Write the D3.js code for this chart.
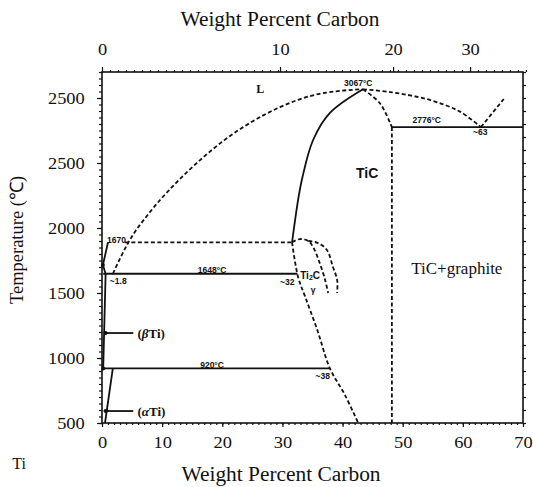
<!DOCTYPE html>
<html>
<head>
<meta charset="utf-8">
<script src="https://cdn.jsdelivr.net/npm/d3@7"></script>
<style>
  body { margin: 0; background: #fff; }
  svg text { fill: #111; }
</style>
</head>
<body>
<svg id="chart" width="533" height="487"></svg>
<script>
// Ti–C phase diagram: temperature vs. carbon content

// axis ticks
const bottomTicks = [0, 10, 20, 30, 40, 50, 60, 70];
const tempTicks = [500, 1000, 1500, 2000, 2500, 3000];
const tempTickLabels = ["500", "1000", "1500", "2000", "2500", "2500"];
const topTickLabels = ["0", "10", "20", "30"];
const topTickAt = [0, 29.6, 48.4, 61.2];   // where each top tick falls on the lower scale

// phase boundaries as [carbon, °C]
const liquidusTi = [[1.8, 1648], [4.4, 1890], [8.0, 2124], [12.1, 2337], [16.3, 2522], [20.4, 2678],
                    [24.6, 2808], [29.6, 2930], [34.6, 3015], [39.6, 3055], [43.4, 3067]];
const liquidusTiC = [[43.4, 3067], [47.9, 3046], [54.5, 2985], [59.5, 2895], [63.0, 2776]];
const liquidusGraphite = [[63.0, 2776], [66.8, 2992]];
const ticSolidusRight = [[43.4, 3067], [46.2, 2960], [48.2, 2776]];
const ticGraphiteEdge = [[48.2, 2776], [48.2, 500]];
const ticLeftSolid = [[43.4, 3067], [37.9, 2885], [35.1, 2677], [33.3, 2385], [32.6, 2215], [31.6, 1890]];
const ticLeftLower = [[31.6, 1890], [32.6, 1623], [33.8, 1469], [35.8, 1215], [37.9, 920], [40.4, 715], [42.6, 500]];
const ti2cInner = [[31.6, 1890], [32.9, 1915], [34.3, 1900], [35.1, 1854], [36.2, 1731], [37.1, 1600], [37.6, 1500]];
const ti2cOuter = [[34.3, 1900], [35.9, 1885], [37.4, 1831], [38.4, 1700], [39.1, 1600], [39.1, 1500]];
const upperPlateau = [[3.8, 1890], [31.6, 1890]];
const peritectic = [[0.2, 1648], [32.5, 1648]];
const eutectoid = [[0.2, 920], [37.9, 920]];
const eutectic = [[48.2, 2776], [70, 2776]];
const betaTiEdge = [[1.0, 1890], [0.15, 1715], [0.6, 1648], [0.2, 915]];
const alphaTiEdge = [[1.8, 920], [0.5, 500]];
const betaPointer = [[0.3, 1192], [5.2, 1192]];
const alphaPointer = [[0.3, 592], [5.2, 592]];
const markerPoints = [[0.15, 1715], [0.2, 920], [0.6, 1192], [0.6, 592]];

const curvedSolid = [ticLeftSolid];
const straightSolid = [peritectic, eutectoid, eutectic, betaTiEdge, alphaTiEdge, betaPointer, alphaPointer];
const curvedDashed = [liquidusTiC, ticSolidusRight, ticLeftLower, ti2cInner, ti2cOuter];
const straightDashed = [liquidusGraphite, ticGraphiteEdge, upperPlateau];

// small annotations inside the plot, placed in data units
const notes = [
  { t: "3067°C", at: [42.6, 3115], k: "small" },
  { t: "2776°C", at: [54.0, 2831], k: "small" },
  { t: "~63",    at: [62.9, 2736], k: "small" },
  { t: "1670",   at: [2.4, 1905],  k: "small" },
  { t: "~1.8",   at: [2.7, 1590],  k: "small" },
  { t: "1648°C", at: [18.3, 1677], k: "small" },
  { t: "~32",    at: [30.8, 1585], k: "small" },
  { t: "920°C",  at: [18.3, 946],  k: "small" },
  { t: "~38",    at: [36.7, 860],  k: "small" },
  { t: "γ",      at: [35.1, 1520], k: "small" },
  { t: "L",      at: [26.3, 3069], k: "phase" },
  { t: "TiC",    at: [44.1, 2423], k: "phaseBig" },
  { t: "TiC+graphite", at: [59.0, 1692], k: "region" }
];

const svg = d3.select("#chart");
const x = d3.scaleLinear().domain([0, 70]).range([102, 523]);
const y = d3.scaleLinear().domain([500, 3200]).range([423, 72]);
const serif = "'Liberation Serif', 'Times New Roman', serif";
const narrow = "'Liberation Sans Narrow', 'Liberation Sans', Arial, sans-serif";

function styleAxis(g, sx) {
  g.select(".domain").remove();
  g.selectAll(".tick line").attr("stroke", "#111").attr("stroke-width", 1.2);
  g.selectAll(".tick text")
    .attr("font-family", serif).attr("font-size", 16).attr("fill", "#111")
    .attr("transform", `scale(${sx},1)`);
}

// minor ticks
svg.append("g").attr("transform", `translate(0,${y(500)})`)
  .call(d3.axisBottom(x).tickValues(d3.range(0, 71, 1)).tickSize(2).tickFormat(""))
  .call(g => styleAxis(g, 1));
svg.append("g").attr("transform", `translate(0,${y(3200)})`)
  .call(d3.axisTop(x).tickValues(d3.range(0, 71, 1.33)).tickSize(2).tickFormat(""))
  .call(g => styleAxis(g, 1));
svg.append("g").attr("transform", `translate(${x(0)},0)`)
  .call(d3.axisLeft(y).tickValues(d3.range(500, 3201, 50)).tickSize(3).tickFormat(""))
  .call(g => styleAxis(g, 1));
svg.append("g").attr("transform", `translate(${x(70)},0)`)
  .call(d3.axisRight(y).tickValues(d3.range(500, 3201, 100)).tickSize(3).tickFormat(""))
  .call(g => styleAxis(g, 1));

// major ticks with labels
svg.append("g").attr("transform", `translate(0,${y(500)})`)
  .call(d3.axisBottom(x).tickValues(bottomTicks).tickSize(4).tickPadding(10))
  .call(g => styleAxis(g, 1.15));
svg.append("g").attr("transform", `translate(0,${y(3200)})`)
  .call(d3.axisTop(x).tickValues(topTickAt).tickSize(5).tickPadding(12)
    .tickFormat((d, i) => topTickLabels[i]))
  .call(g => styleAxis(g, 1.15));
svg.append("g").attr("transform", `translate(${x(0)},0)`)
  .call(d3.axisLeft(y).tickValues(tempTicks).tickSize(5).tickPadding(10)
    .tickFormat((d, i) => tempTickLabels[i]))
  .call(g => styleAxis(g, 1.15));

// frame
svg.append("rect")
  .attr("x", x(0)).attr("y", y(3200))
  .attr("width", x(70) - x(0)).attr("height", y(500) - y(3200))
  .attr("fill", "none").attr("stroke", "#111").attr("stroke-width", 1.6);

// boundaries
const smooth = d3.line().x(d => x(d[0])).y(d => y(d[1])).curve(d3.curveCatmullRom.alpha(0.5));
const monotone = d3.line().x(d => x(d[0])).y(d => y(d[1])).curve(d3.curveMonotoneX);
const straight = d3.line().x(d => x(d[0])).y(d => y(d[1]));

const dashed = svg.append("g")
  .attr("fill", "none").attr("stroke", "#111").attr("stroke-width", 1.8)
  .attr("stroke-dasharray", "4,2.5");
dashed.append("path").attr("d", monotone(liquidusTi));
dashed.selectAll("path.c").data(curvedDashed).join("path").attr("class", "c").attr("d", smooth);
dashed.selectAll("path.s").data(straightDashed).join("path").attr("class", "s").attr("d", straight);

const solid = svg.append("g")
  .attr("fill", "none").attr("stroke", "#111").attr("stroke-width", 1.8);
solid.selectAll("path.c").data(curvedSolid).join("path").attr("class", "c").attr("d", smooth);
solid.selectAll("path.s").data(straightSolid).join("path").attr("class", "s").attr("d", straight);

svg.append("g").selectAll("circle").data(markerPoints).join("circle")
  .attr("cx", d => x(d[0])).attr("cy", d => y(d[1])).attr("r", 2).attr("fill", "#111");

// annotations
const noteStyle = {
  small:    { f: narrow, s: 8.5, w: "bold" },
  phase:    { f: serif,  s: 12,  w: "bold" },
  phaseBig: { f: narrow, s: 14,  w: "bold" },
  region:   { f: serif,  s: 17,  w: "normal" }
};
svg.append("g").selectAll("text").data(notes).join("text")
  .attr("x", d => x(d.at[0])).attr("y", d => y(d.at[1]))
  .attr("text-anchor", "middle").attr("dominant-baseline", "central")
  .attr("font-family", d => noteStyle[d.k].f)
  .attr("font-size", d => noteStyle[d.k].s)
  .attr("font-weight", d => noteStyle[d.k].w)
  .text(d => d.t);

// Ti2C label with subscript
const ti2c = svg.append("text")
  .attr("x", x(34.6)).attr("y", y(1638))
  .attr("text-anchor", "middle").attr("dominant-baseline", "central")
  .attr("font-family", narrow).attr("font-size", 10).attr("font-weight", "bold");
ti2c.append("tspan").text("Ti");
ti2c.append("tspan").attr("font-size", 7).attr("dy", 2).text("2");
ti2c.append("tspan").attr("dy", -2).text("C");

// phase pointers
[["(", "β", "Ti)", 1192], ["(", "α", "Ti)", 592]].forEach(p => {
  const t = svg.append("text")
    .attr("x", x(5.9)).attr("y", y(p[3]))
    .attr("dominant-baseline", "central")
    .attr("font-family", serif).attr("font-size", 13).attr("font-weight", "bold");
  t.append("tspan").text(p[0]);
  t.append("tspan").attr("font-style", "italic").text(p[1]);
  t.append("tspan").text(p[2]);
});

// titles
svg.append("text").attr("x", 280).attr("y", 26).attr("text-anchor", "middle")
  .attr("font-family", serif).attr("font-size", 20)
  .attr("transform", "translate(280,0) scale(1.07,1) translate(-280,0)")
  .text("Weight Percent Carbon");
svg.append("text").attr("x", 281).attr("y", 481).attr("text-anchor", "middle")
  .attr("font-family", serif).attr("font-size", 20)
  .attr("transform", "translate(281,0) scale(1.07,1) translate(-281,0)")
  .text("Weight Percent Carbon");
svg.append("text").attr("x", 19).attr("y", 469).attr("text-anchor", "middle")
  .attr("font-family", serif).attr("font-size", 16).text("Ti");
svg.append("text")
  .attr("transform", "translate(23,240) rotate(-90)")
  .attr("text-anchor", "middle")
  .attr("font-family", serif).attr("font-size", 18.5)
  .text("Temperature (℃)");
</script>
</body>
</html>
